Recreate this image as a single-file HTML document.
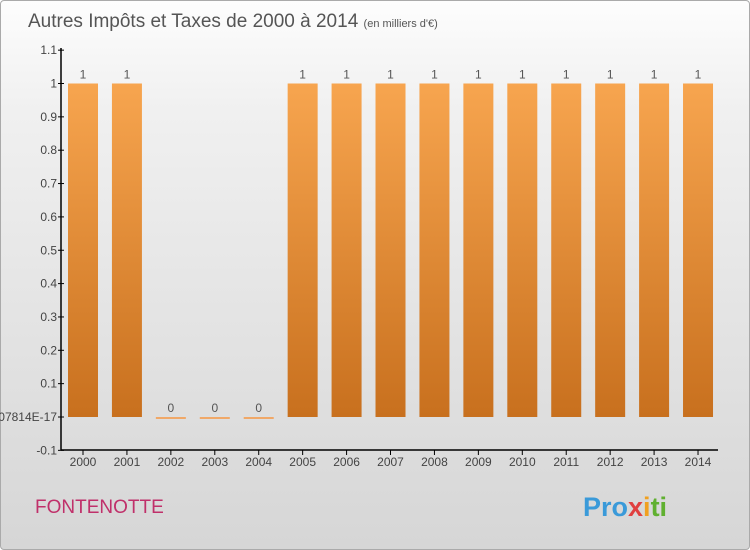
<!DOCTYPE html>
<html><head><meta charset="utf-8"><style>
body{margin:0;width:750px;height:550px;overflow:hidden;font-family:"Liberation Sans","DejaVu Sans",sans-serif}
#bg{position:absolute;left:0;top:0;width:748px;height:548px;border:1px solid #aaa;border-radius:4px;background:linear-gradient(#fdfdfd,#f0f0f0 20%,#d6d6d6)}
</style></head><body>
<div id="bg"></div>
<svg id="c" width="750" height="550" style="position:absolute;left:0;top:0">
<defs><linearGradient id="g" x1="0" y1="0" x2="0" y2="1"><stop offset="0" stop-color="#f7a54f"/><stop offset="1" stop-color="#c8701e"/></linearGradient></defs>
<text x="28" y="27" font-size="19" fill="#555">Autres Impôts et Taxes de 2000 à 2014 <tspan font-size="11">(en milliers d'€)</tspan></text>
<text x="35" y="513" font-size="19" fill="#c0306a">FONTENOTTE</text>
<text x="583" y="516" font-size="27" font-weight="bold" fill="#3a9ad9">Pro<tspan fill="#e04040">x</tspan><tspan fill="#f0a020">i</tspan><tspan fill="#60b030">ti</tspan></text>
<g id="plot"></g>
</svg>
<script>
const years=["2000","2001","2002","2003","2004","2005","2006","2007","2008","2009","2010","2011","2012","2013","2014"];
const values=[1,1,0,0,0,1,1,1,1,1,1,1,1,1,1];
const tickVals=[1.1,1,0.9,0.8,0.7,0.6,0.5,0.4,0.3,0.2,0.1,0,-0.1];
const tickLabels=["1.1","1","0.9","0.8","0.7","0.6","0.5","0.4","0.3","0.2","0.1","1.3877787807814E-17","-0.1"];
const NS="http://www.w3.org/2000/svg",p=document.getElementById('plot');
const y=v=>417-v*333.5, x=i=>83+i*43.93;
function mk(t,a,txt){const e=document.createElementNS(NS,t);for(const k in a)e.setAttribute(k,a[k]);if(txt!=null)e.textContent=txt;p.appendChild(e);return e;}
let ax=mk('line',{x1:61,y1:48,x2:61,y2:450,stroke:'#000','stroke-width':1.5});


let bx=mk('line',{x1:61,y1:450,x2:718,y2:450,stroke:'#000','stroke-width':1.5});


tickVals.forEach((v,i)=>{
 mk('line',{x1:58,y1:y(v),x2:64,y2:y(v),stroke:'#000'});
 let t=mk('text',{x:57,y:y(v)+4,'font-size':12,fill:'#444','text-anchor':'end'},tickLabels[i]);
 
 
});
years.forEach((yr,i)=>{
 const v=values[i],cx=x(i);
 mk('line',{x1:cx,y1:450,x2:cx,y2:455,stroke:'#000'});
 let t=mk('text',{x:cx,y:466,'font-size':12,fill:'#444','text-anchor':'middle'},yr);
 
 
 const top=Math.min(y(v),y(0)),h=Math.max(Math.abs(y(v)-y(0)),2);
 let r=mk('rect',{x:cx-15,y:top,width:30,height:h,fill:v===0?'#f0a868':'url(#g)'});
 
 
 let l=mk('text',{x:cx,y:top-5,'font-size':12,fill:'#555','text-anchor':'middle'},String(v));
 
 
});
</script>
</body></html>
